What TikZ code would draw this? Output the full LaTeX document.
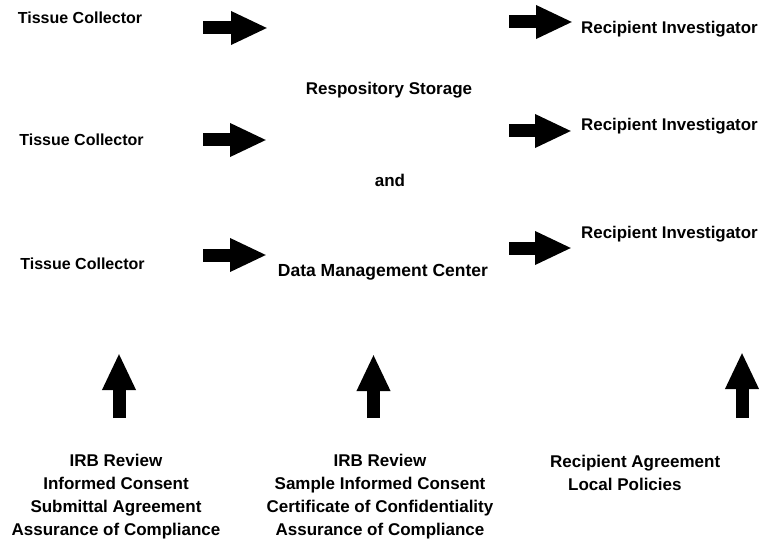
\documentclass[tikz,border=0pt]{standalone}
\usepackage{fontspec}
\setmainfont{Liberation Sans}
\usetikzlibrary{arrows.meta}
\tikzset{
  lbl/.style={inner sep=0pt, font=\bfseries\fontsize{17}{22.7}\selectfont, anchor=base},
  lblsm/.style={lbl, font=\bfseries\fontsize{16}{20}\selectfont},
  lblri/.style={lbl, font=\bfseries\fontsize{16.9}{22}\selectfont, anchor=base west},
  blockarrow/.style={line width=13pt, -{Triangle[length=37pt, width=31pt]}, black},
}
\begin{document}
\begin{tikzpicture}[x=1pt, y=-1pt]
\useasboundingbox (0,0) rectangle (760,540);
% left column
\node[lblsm] (tc1) at (80,24) {Tissue Collector};
\node[lblsm] (tc2) at (81.5,146) {Tissue Collector};
\node[lblsm] (tc3) at (82.5,269) {Tissue Collector};
% centre
\node[lbl] (rs) at (389,95) {Respository Storage};
\node[lbl] (and) at (390,187) {and};
\node[lbl, font=\bfseries\fontsize{17.5}{22}\selectfont] (dm) at (383,276) {Data Management Center};
% right column
\node[lblri] (ri1) at (581,34) {Recipient Investigator};
\node[lblri] (ri2) at (581,131) {Recipient Investigator};
\node[lblri] (ri3) at (581,238) {Recipient Investigator};
% bottom blocks (base = baseline of last line)
\node[lbl, align=center, anchor=base] (b1) at (116,535) {IRB Review\\Informed Consent\\Submittal Agreement\\Assurance of Compliance};
\node[lbl, align=center, anchor=base] (b2) at (380,535) {IRB Review\\Sample Informed Consent\\Certificate of Confidentiality\\Assurance of Compliance};
\node[lbl, anchor=base west] (b3a) at (550,467) {Recipient Agreement};
\node[lbl, anchor=base west] (b3b) at (568,490) {Local Policies};
% arrow end points
\coordinate (la1s) at (203,28);  \coordinate (la1e) at (268,28);
\coordinate (la2s) at (203,140); \coordinate (la2e) at (267,140);
\coordinate (la3s) at (203,255); \coordinate (la3e) at (267,255);
\coordinate (ra1s) at (509,22);  \coordinate (ra1e) at (573,22);
\coordinate (ra2s) at (509,131); \coordinate (ra2e) at (572,131);
\coordinate (ra3s) at (509,248); \coordinate (ra3e) at (572,248);
\coordinate (ua1s) at (119,418); \coordinate (ua1e) at (119,353);
\coordinate (ua2s) at (373.5,418); \coordinate (ua2e) at (373.5,354);
\coordinate (ua3s) at (742,418); \coordinate (ua3e) at (742,352);
\foreach \a in {la1,la2,la3,ra1,ra2,ra3,ua1,ua2,ua3}
  \draw[blockarrow] (\a s) -- (\a e);
\end{tikzpicture}
\end{document}
